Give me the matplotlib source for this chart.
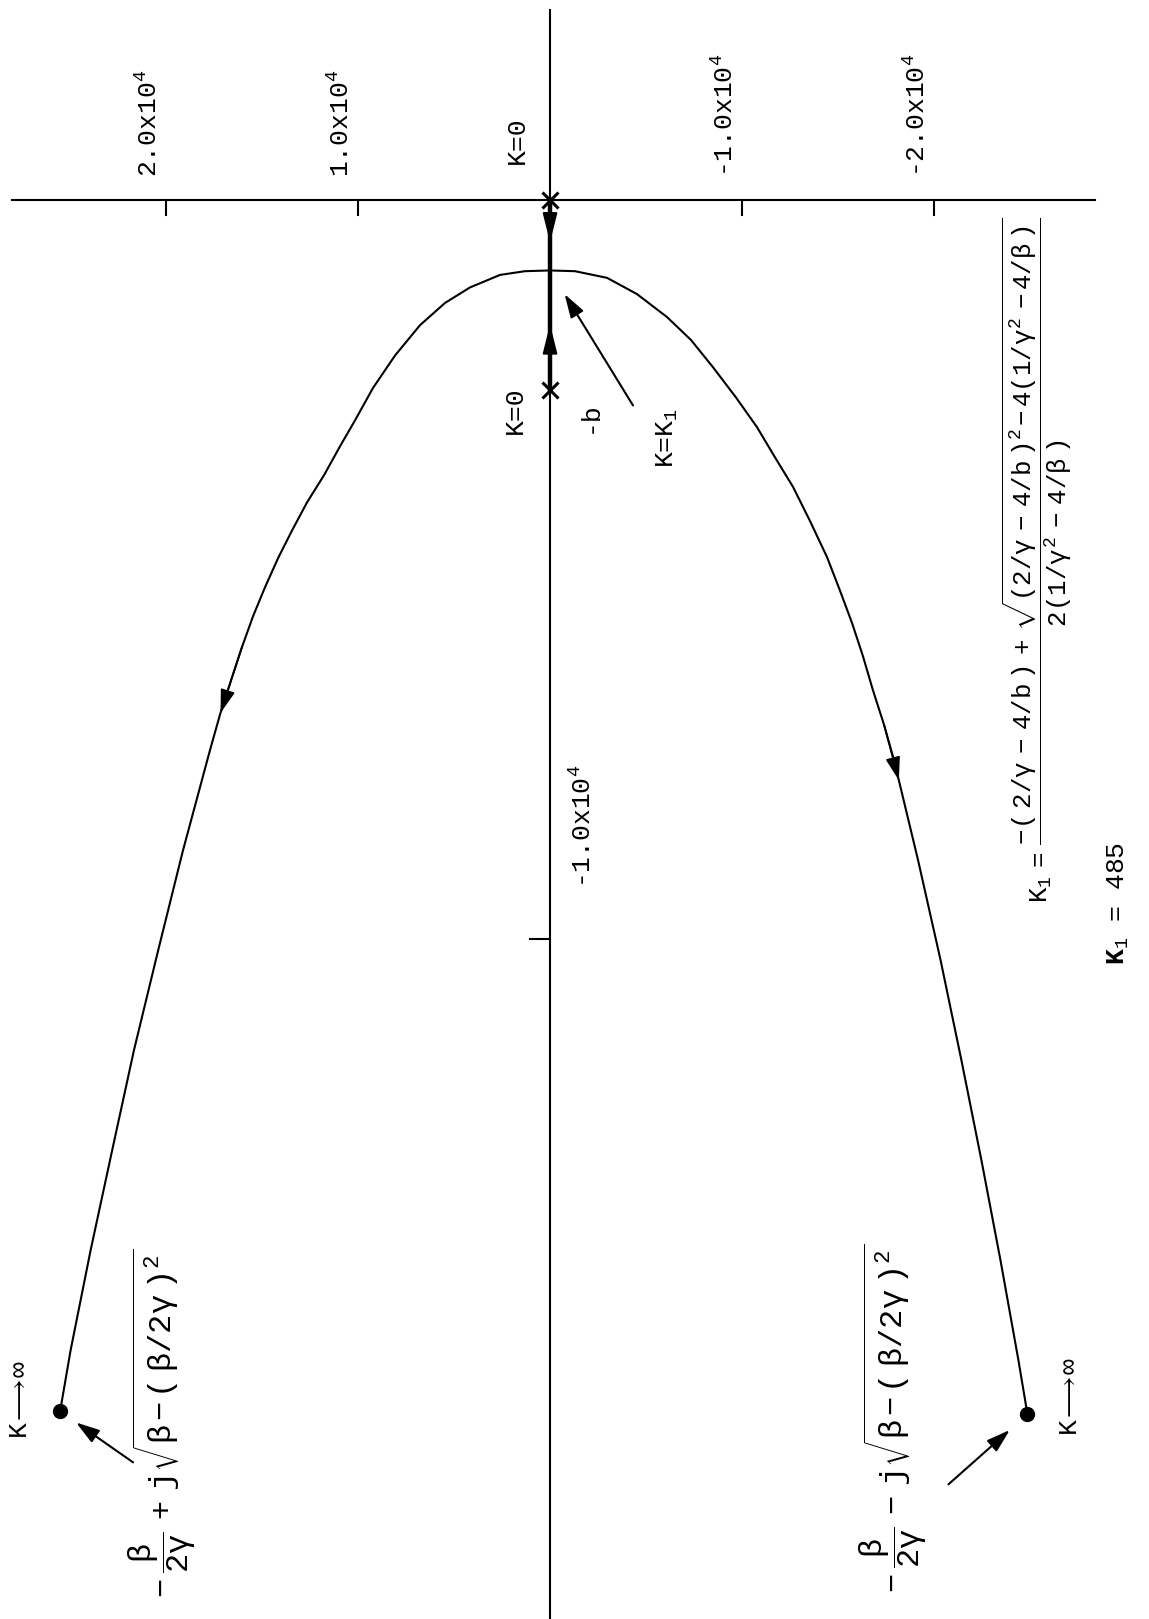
"""Root locus of the second-order loop, drawn with the real axis running down the page."""
import matplotlib

matplotlib.use("Agg")
import matplotlib.pyplot as plt

W, H, DPI = 1149, 1619, 100

plt.rcParams["font.family"] = ["Liberation Mono", "DejaVu Sans"]
plt.rcParams["mathtext.fontset"] = "custom"
plt.rcParams["mathtext.rm"] = "Liberation Mono"
plt.rcParams["mathtext.it"] = "Liberation Mono"
plt.rcParams["mathtext.bf"] = "Liberation Mono:bold"

# s-plane values in units of 1e4 (imaginary part, real part)
pole_re = [0.0, -0.257]          # K=0 at s=0 and s=-b
breakaway_re = -0.095            # K=K1
upper_im = [0.000, 0.130, 0.260, 0.417, 0.547, 0.677, 0.807, 0.922, 1.016, 1.094,
            1.177, 1.266, 1.344, 1.416, 1.485, 1.547, 1.605, 1.662, 1.719, 1.771,
            1.912, 2.041, 2.167, 2.281, 2.393, 2.497, 2.552]
upper_re = [-0.095, -0.096, -0.101, -0.118, -0.139, -0.169, -0.210, -0.254, -0.298,
            -0.333, -0.372, -0.409, -0.447, -0.484, -0.524, -0.563, -0.605, -0.650,
            -0.696, -0.744, -0.880, -1.015, -1.150, -1.286, -1.421, -1.556, -1.639]
lower_im = [0.000, -0.130, -0.297, -0.453, -0.609, -0.734, -0.849, -0.969, -1.078,
            -1.172, -1.266, -1.354, -1.443, -1.510, -1.573, -1.630, -1.682, -1.740,
            -1.792, -1.917, -2.034, -2.143, -2.247, -2.346, -2.440, -2.487]
lower_re = [-0.095, -0.096, -0.105, -0.127, -0.158, -0.189, -0.226, -0.267, -0.307,
            -0.348, -0.388, -0.434, -0.483, -0.528, -0.572, -0.617, -0.663, -0.710,
            -0.758, -0.893, -1.028, -1.164, -1.299, -1.434, -1.570, -1.643]
im_ticks = [2.0, 1.0, -1.0, -2.0]
im_tick_labels = [r"2.0x10$^4$", r"1.0x10$^4$", r"-1.0x10$^4$", r"-2.0x10$^4$"]
re_ticks = [-1.0]
re_tick_labels = [r"-1.0x10$^4$"]

IM_LIM = (2.865, -3.12)
RE_LIM = (-1.92, 0.271)
FS = 19
LW = 1.5

fig = plt.figure(figsize=(W / DPI, H / DPI), dpi=DPI)
ax = fig.add_axes([0, 0, 1, 1])
ax.set_xlim(*IM_LIM)
ax.set_ylim(*RE_LIM)
ax.axis("off")

# axes of the s-plane
ax.plot([2.80, -2.84], [0, 0], color="black", lw=LW)
ax.plot([0, 0], [0.257, RE_LIM[0]], color="black", lw=LW)
for v, lab in zip(im_ticks, im_tick_labels):
    ax.plot([v, v], [0, -0.02], color="black", lw=LW)
    ax.annotate(lab, xy=(v, 0), xytext=(-17, 23), textcoords="offset pixels",
                rotation=90, ha="center", va="bottom", fontsize=FS)
for v, lab in zip(re_ticks, re_tick_labels):
    ax.plot([0, 0.104], [v, v], color="black", lw=LW)
    ax.annotate(lab, xy=(0, v), xytext=(33, 51), textcoords="offset pixels",
                rotation=90, ha="center", va="bottom", fontsize=FS)

# real-axis segment between the open-loop poles
ax.plot([0, 0], [pole_re[0], pole_re[1]], color="black", lw=3.2)
ax.plot([0, 0], pole_re, ls="none", marker="x", ms=11, mew=2.2, color="black")

arrow = dict(arrowstyle="-|>,head_length=1.0,head_width=0.25", color="black",
             lw=1.5, shrinkA=0, shrinkB=0, mutation_scale=18)
for p, frac in zip(pole_re, [0.6, 0.55]):
    tip = p + frac * (breakaway_re - p)
    tail = p + (frac - 0.25) * (breakaway_re - p)
    ax.annotate("", xy=(0, tip), xytext=(0, tail), arrowprops=arrow)

# complex branches, with a direction arrow part way down each
for im, re, k, f in [(upper_im, upper_re, 17, 0.95), (lower_im, lower_re, 18, 0.2)]:
    ax.plot(im, re, color="black", lw=LW)
    ax.plot(im[-1], re[-1], marker="o", ms=10, color="black")
    tip = (im[k] + f * (im[k + 1] - im[k]), re[k] + f * (re[k + 1] - re[k]))
    ax.annotate("", xy=tip, xytext=(im[k - 1], re[k - 1]),
                arrowprops=dict(arrowstyle="-|>,head_length=0.8,head_width=0.25",
                                color="black", lw=1.2, shrinkA=0, shrinkB=0,
                                mutation_scale=18))

pointer = dict(arrowstyle="-|>,head_length=0.8,head_width=0.25", color="black",
               lw=1.5, shrinkA=0, mutation_scale=18)
ax.annotate("", xy=(0, breakaway_re), xytext=(83, -135), textcoords="offset pixels",
            arrowprops=dict(pointer, shrinkB=20))
ax.annotate("", xy=(upper_im[-1], upper_re[-1]), xytext=(73, -51),
            textcoords="offset pixels", arrowprops=dict(pointer, shrinkB=14))
ax.annotate("", xy=(lower_im[-1], lower_re[-1]), xytext=(-79, -70),
            textcoords="offset pixels", arrowprops=dict(pointer, shrinkB=17))


def label(px, py, s, **kw):
    fig.text(px / W, 1 - py / H, s, rotation=90, ha="center", va="center",
             fontsize=kw.pop("fontsize", FS), **kw)


label(517, 140, "K=0")
label(515, 410, "K=0")
label(590, 417, "-b")
label(667, 438, r"K=K$_1$")
label(20, 1400, r"K$\longrightarrow\!\infty$", fontsize=19)
label(1070, 1397, r"K$\longrightarrow\!\infty$", fontsize=19)
label(162, 1423, r"$-\ \dfrac{\beta}{2\gamma}\ +\ j\sqrt{\beta-(\ \beta/2\gamma\ )^2}$",
      fontsize=23)
label(893, 1418, r"$-\ \dfrac{\beta}{2\gamma}\ -\ j\sqrt{\beta-(\ \beta/2\gamma\ )^2}$",
      fontsize=23)
label(1037, 560,
      r"$K_1\ =\ \dfrac{-(\ 2/\gamma\ -\ 4/b\ )\ +\ \sqrt{(2/\gamma\ -\ 4/b\ )^2-4(1/\gamma^2\ -4/\beta\ )}}"
      r"{2(1/\gamma^2\ -\ 4/\beta\ )}$", fontsize=18.5)
label(1118, 903, r"$\mathbf{K}_1$ = 485")

fig.savefig("out.png", dpi=DPI)
plt.close(fig)
